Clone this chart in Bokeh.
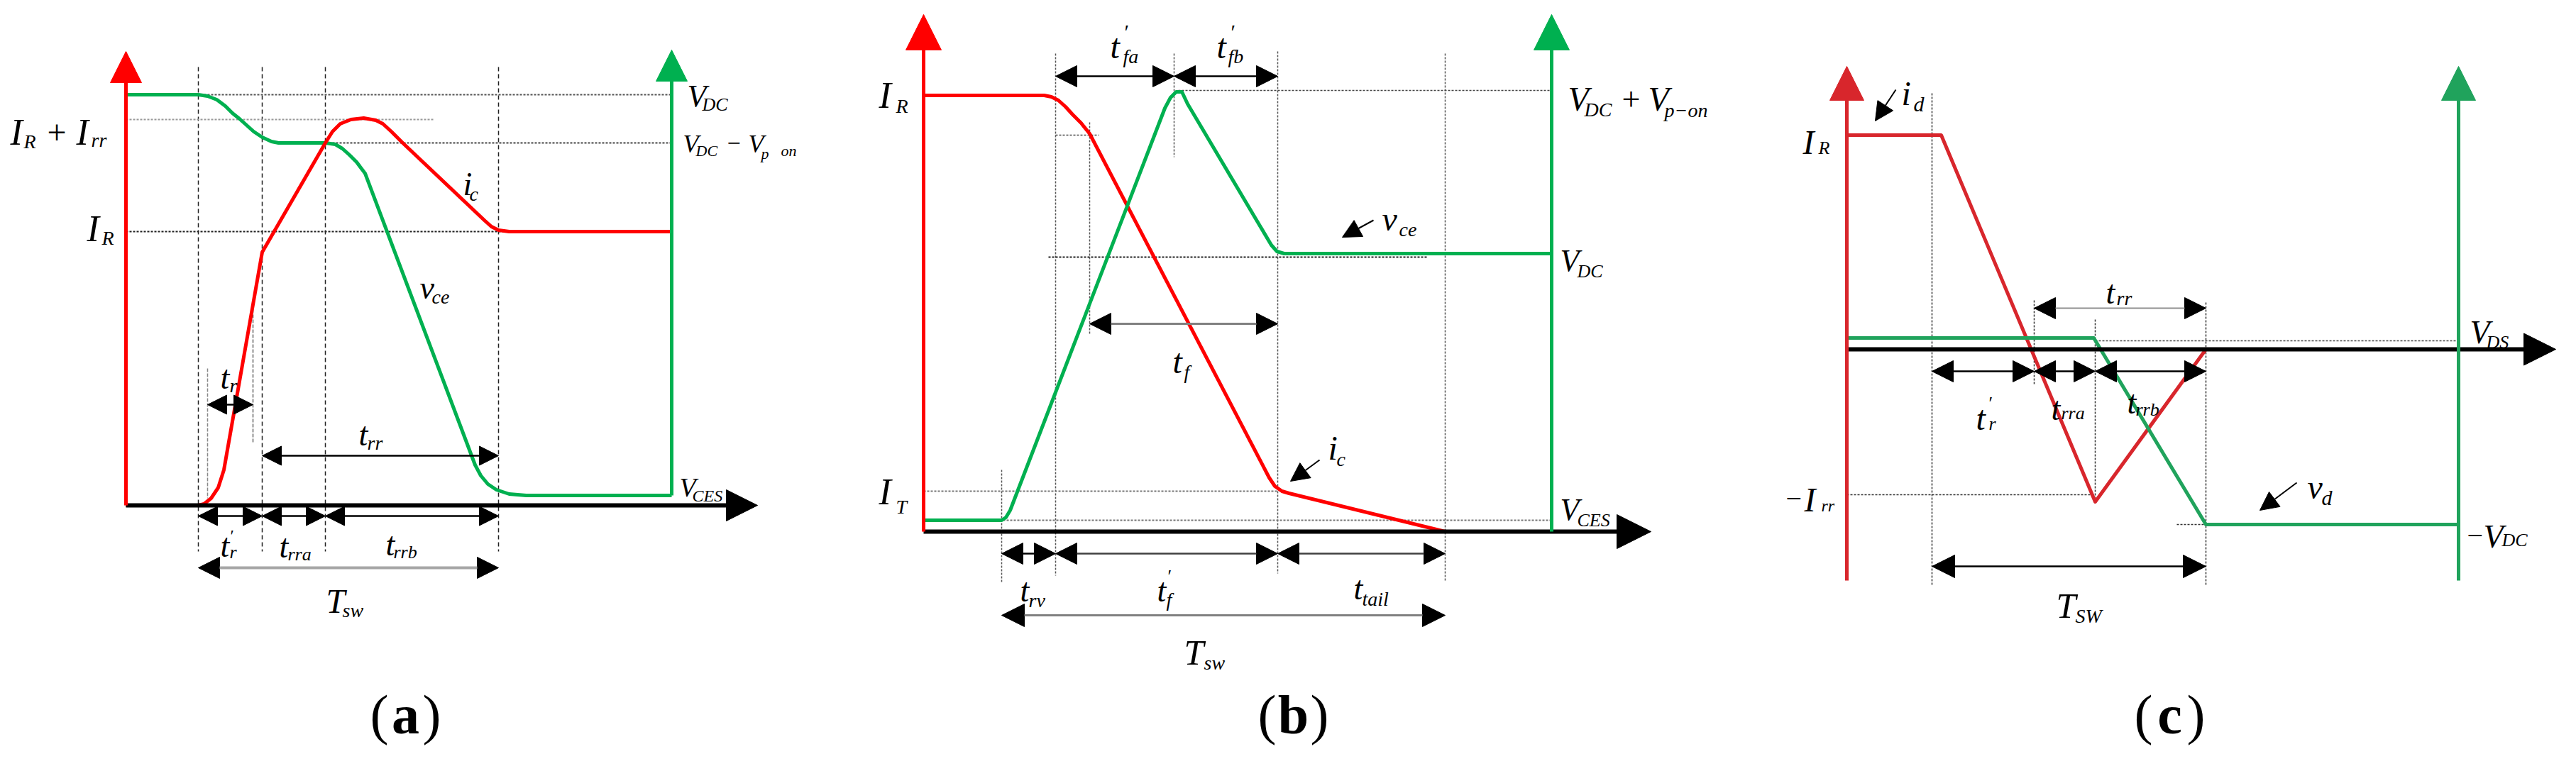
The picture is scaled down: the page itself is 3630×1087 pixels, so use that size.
from bokeh.plotting import figure
from bokeh.models import Range1d, Arrow, NormalHead, ColumnDataSource
from bokeh.embed import file_html
from bokeh.resources import INLINE
from bokeh.core.properties import value

# ---------------- data (time / level units, origin at axis crossing, level up) ----------------
# Panel (a): IGBT turn-on with diode reverse recovery
A_IC_T = [0, 102, 110, 120, 130, 138, 192, 281, 291, 302, 317, 335, 352, 362, 374, 390, 505, 515, 525, 540, 769]
A_IC_V = [0, 0, 2, 10, 25, 50, 357, 511, 527, 538, 544, 546, 543, 538, 527, 511, 402, 393, 388, 386, 386]
A_VCE_T = [0, 102, 115, 128, 140, 150, 160, 170, 180, 192, 205, 215, 281, 295, 305, 315, 325, 337, 492, 500, 510, 522, 540, 564, 769]
A_VCE_V = [579, 579, 577, 572, 563, 553, 545, 536, 527, 519, 513, 511, 511, 509, 503, 494, 484, 468, 57, 42, 30, 22, 16, 14, 14]
A_LEVELS = [386, 544, 579, 511, 14]          # I_R, I_R+I_rr, V_DC, V_DC-V_p-on, V_CES
A_PHASES = [102, 192, 281, 525]              # boundaries of t_r', t_rra, t_rrb
A_TR = [115, 179]                            # t_r marker
A_END = 769

# Panel (b): IGBT turn-off
B_IC_T = [0, 170, 180, 190, 200, 210, 222, 234, 487, 495, 505, 515, 735, 885]
B_IC_V = [615, 615, 613, 608, 599, 588, 576, 561, 76, 64, 57, 54, 0, 0]
B_VCE_T = [0, 110, 116, 122, 340, 348, 356, 364, 372, 490, 498, 508, 520, 885]
B_VCE_V = [16, 16, 20, 30, 597, 612, 620, 620, 603, 404, 395, 392, 392, 392]
B_LEVELS = [615, 57, 622, 387, 16]           # I_R, I_T, V_DC+V_p-on, V_DC, V_CES
B_PHASES = [110, 186, 234, 353, 499, 735]    # t_rv, t_fa', t_f, t_fb', t_tail boundaries
B_END = 885

# Panel (c): diode reverse recovery
C_ID_T = [0, 133, 350, 506, 862]
C_ID_V = [302, 302, -215, 0, 0]
C_VD_T = [0, 348, 506, 862]
C_VD_V = [16, 16, -247, -247]
C_LEVELS = [302, -205, 16, -247]             # I_R, -I_rr, on-state, -V_DC
C_PHASES = [120, 264, 350, 506]              # t_r', t_rra, t_rrb boundaries
C_END = 862

# ---------------- layout ----------------
OA = (185, 720)
OB = (1309, 757)
OC = (2610, 500)

RED = "#ff0000"
GREEN = "#00b050"
RED_C = "#d8262c"
GREEN_C = "#20a35c"

p = figure(width=3614, height=1071, x_range=Range1d(8, 3622), y_range=Range1d(1079, 8),
           output_backend="svg", toolbar_location=None, min_border=0,
           x_axis_location=None, y_axis_location=None)
p.outline_line_color = None
p.background_fill_color = "white"
p.border_fill_color = "white"
p.xgrid.grid_line_color = None
p.ygrid.grid_line_color = None


def px(o, t):
    return [o[0] + v for v in t]


def py(o, v):
    return [o[1] - w for w in v]


def seg(o, t0, v0, t1, v1, color="black", width=1.5, dash="solid"):
    p.segment(x0=[o[0] + t0], y0=[o[1] - v0], x1=[o[0] + t1], y1=[o[1] - v1],
              line_color=color, line_width=width, line_dash=dash)


def darrow(o, t0, t1, v, color="black", width=2.5, size=27):
    p.add_layout(Arrow(x_start=o[0] + t0, y_start=o[1] - v, x_end=o[0] + t1, y_end=o[1] - v,
                       line_color=color, line_width=width,
                       start=NormalHead(size=size, fill_color="black", line_color="black"),
                       end=NormalHead(size=size, fill_color="black", line_color="black")))


def axis_arrow(x0, y0, x1, y1, color, width=5, size=44):
    p.add_layout(Arrow(x_start=x0, y_start=y0, x_end=x1, y_end=y1, line_color=color, line_width=width,
                       end=NormalHead(size=size, fill_color=color, line_color=color)))


def pointer(x0, y0, x1, y1, size=26):
    p.add_layout(Arrow(x_start=x0, y_start=y0, x_end=x1, y_end=y1, line_color="black", line_width=2,
                       end=NormalHead(size=size, fill_color="black", line_color="black")))


DASH = "6 4"
DOT = "3 2"

# ---------- panel (a) guides ----------
for t in A_PHASES:
    seg(OA, t, 618, t, -65, "#222", 1.5, DASH)
seg(OA, A_TR[0], 193, A_TR[0], 10, "#888", 1.5, "5 2")
seg(OA, A_TR[1], 283, A_TR[1], 88, "#666", 1.5, "5 2")
seg(OA, 0, A_LEVELS[2], A_END, A_LEVELS[2], "#555", 2, DOT)
seg(OA, 0, A_LEVELS[1], 435, A_LEVELS[1], "#999", 2, DOT)
seg(OA, 211, A_LEVELS[3], A_END, A_LEVELS[3], "#444", 2, DOT)
seg(OA, 0, A_LEVELS[0], A_END, A_LEVELS[0], "#222", 2, DOT)

# ---------- panel (b) guides ----------
B_VSPAN = [(87, -73), (674, -62), (577, 278), (674, 528), (677, -59), (674, -69)]
for t, (va, vb) in zip(B_PHASES, B_VSPAN):
    seg(OB, t, va, t, vb, "#555", 1.5, DOT)
seg(OB, 359, B_LEVELS[2], B_END, B_LEVELS[2], "#444", 1.5, DOT)
seg(OB, 176, B_LEVELS[3], 710, B_LEVELS[3], "#222", 2, DOT)
seg(OB, 0, B_LEVELS[1], B_PHASES[4], B_LEVELS[1], "#777", 2, DOT)
seg(OB, 112, B_LEVELS[4], B_END, B_LEVELS[4], "#777", 2, DOT)
seg(OB, B_PHASES[1], 559, 247, 559, "#444", 1.5, DOT)

# ---------- panel (c) guides ----------
C_VSPAN = [(361, -333), (69, -49), (42, -215), (66, -333)]
for t, (va, vb) in zip(C_PHASES, C_VSPAN):
    seg(OC, t, va, t, vb, "#333", 1.5, DOT)
seg(OC, 0, C_LEVELS[1], C_PHASES[2], C_LEVELS[1], "#333", 1.5, DOT)
seg(OC, 465, C_LEVELS[3], C_PHASES[3], C_LEVELS[3], "#333", 1.5, DOT)
seg(OC, C_PHASES[2], 12, C_END, 12, "#444", 1.5, DOT)

# ---------- horizontal axes ----------
axis_arrow(OA[0], OA[1], OA[0] + 890, OA[1], "black", 6, 44)
axis_arrow(OB[0], OB[1], OB[0] + 1025, OB[1], "black", 6, 48)
axis_arrow(OC[0], OC[1], OC[0] + 999, OC[1], "black", 6, 45)

# ---------- waveforms ----------
p.line(px(OA, A_VCE_T), py(OA, A_VCE_V), line_color=GREEN, line_width=5, line_join="round")
p.line(px(OA, A_IC_T), py(OA, A_IC_V), line_color=RED, line_width=5, line_join="round")
p.line(px(OB, B_IC_T), py(OB, B_IC_V), line_color=RED, line_width=5, line_join="round")
p.line(px(OB, B_VCE_T), py(OB, B_VCE_V), line_color=GREEN, line_width=5, line_join="round")
p.line(px(OC, C_ID_T), py(OC, C_ID_V), line_color=RED_C, line_width=5, line_join="round")
p.line(px(OC, C_VD_T), py(OC, C_VD_V), line_color=GREEN_C, line_width=5, line_join="round")

# ---------- vertical axes ----------
axis_arrow(OA[0], OA[1], OA[0], 80, RED, 5, 44)
axis_arrow(OA[0] + A_END, OA[1] - A_LEVELS[4], OA[0] + A_END, 78, GREEN, 5, 44)
axis_arrow(OB[0], OB[1], OB[0], 28, RED, 5, 50)
axis_arrow(OB[0] + B_END, OB[1], OB[0] + B_END, 28, GREEN, 5, 50)
axis_arrow(OC[0], 826, OC[0], 101, RED_C, 5, 48)
axis_arrow(OC[0] + C_END, 826, OC[0] + C_END, 101, GREEN_C, 5, 48)

# ---------- dimension arrows ----------
darrow(OA, A_TR[0], A_TR[1], 142)
darrow(OA, A_PHASES[1], A_PHASES[3], 70)
darrow(OA, A_PHASES[0], A_PHASES[1], -15)
darrow(OA, A_PHASES[1], A_PHASES[2], -15)
darrow(OA, A_PHASES[2], A_PHASES[3], -15)
darrow(OA, A_PHASES[0], A_PHASES[3], -88, "#a6a6a6", 4, 30)

darrow(OB, B_PHASES[1], B_PHASES[3], 642, size=30)
darrow(OB, B_PHASES[3], B_PHASES[4], 642, size=30)
darrow(OB, B_PHASES[2], B_PHASES[4], 293, "#808080", 3, 30)
darrow(OB, B_PHASES[0], B_PHASES[1], -31, size=30)
darrow(OB, B_PHASES[1], B_PHASES[4], -31, "#404040", 2.5, 30)
darrow(OB, B_PHASES[4], B_PHASES[5], -31, "#404040", 2.5, 30)
darrow(OB, B_PHASES[0], B_PHASES[5], -118, "#808080", 3, 32)

darrow(OC, C_PHASES[1], C_PHASES[3], 58, "#909090", 2, 30)
darrow(OC, C_PHASES[0], C_PHASES[1], -31, size=30)
darrow(OC, C_PHASES[1], C_PHASES[2], -31, size=30)
darrow(OC, C_PHASES[2], C_PHASES[3], -31, size=30)
darrow(OC, C_PHASES[0], C_PHASES[3], -306, size=32)

pointer(1943, 318, 1899, 342)
pointer(1867, 656, 1826, 686)
pointer(2679, 134, 2650, 178)
pointer(3244, 688, 3192, 727)

# ---------- texts ----------
TX, TY, TS, TF, TST = [], [], [], [], []
PRIME = "\u2032"


def tx(x, y, s, size, style="italic"):
    TX.append(x); TY.append(y); TS.append(s); TF.append(f"{size}px"); TST.append(style)


# panel (a)
tx(22, 194, "I", 52); tx(41, 207, "R", 28); tx(74, 194, "+", 48, "normal"); tx(115, 194, "I", 52); tx(136, 205, "rr", 28)
tx(130, 330, "I", 52); tx(151, 343, "R", 28)
tx(660, 267, "i", 46); tx(669, 281, "c", 28)
tx(599, 413, "v", 46); tx(616, 426, "ce", 28)
tx(976, 143, "V", 44); tx(997, 155, "DC", 26)
tx(970, 210, "V", 36); tx(988, 220, "DC", 22); tx(1032, 209, "\u2212", 34, "normal"); tx(1062, 210, "V", 36)
tx(1080, 224, "p", 22); tx(1108, 220, "on", 22)
tx(965, 694, "V", 38); tx(983, 706, "CES", 24)
tx(318, 540, "t", 46); tx(331, 551, "r", 28)
tx(318, 777, "t", 46); tx(332, 762, PRIME, 24, "normal"); tx(331, 786, "r", 26)
tx(401, 778, "t", 46); tx(413, 789, "rra", 26)
tx(551, 775, "t", 46); tx(562, 786, "rrb", 26)
tx(513, 620, "t", 46); tx(525, 632, "rr", 28)
tx(467, 855, "T", 48); tx(490, 868, "sw", 28)

# panel (b)
tx(1246, 142, "I", 52); tx(1270, 157, "R", 28)
tx(1246, 701, "I", 52); tx(1270, 722, "T", 28)
tx(1572, 73, "t", 48); tx(1592, 52, PRIME, 30, "normal"); tx(1590, 87, "fa", 28)
tx(1722, 73, "t", 48); tx(1742, 52, PRIME, 30, "normal"); tx(1738, 87, "fb", 28)
tx(1660, 517, "t", 48); tx(1676, 532, "f", 28)
tx(1955, 316, "v", 48); tx(1979, 331, "ce", 28)
tx(1879, 639, "i", 48); tx(1891, 655, "c", 28)
tx(2217, 147, "V", 48); tx(2240, 162, "DC", 28); tx(2293, 147, "+", 46, "normal"); tx(2330, 147, "V", 48)
tx(2353, 163, "p\u2212on", 28)
tx(2206, 375, "V", 44); tx(2230, 390, "DC", 26)
tx(2206, 726, "V", 44); tx(2230, 741, "CES", 26)
tx(1445, 840, "t", 46); tx(1457, 854, "rv", 28)
tx(1638, 840, "t", 46); tx(1653, 820, PRIME, 26, "normal"); tx(1651, 853, "f", 28)
tx(1915, 837, "t", 46); tx(1927, 852, "tail", 28)
tx(1676, 927, "T", 50); tx(1704, 942, "sw", 28)

# panel (c)
tx(2687, 139, "i", 48); tx(2704, 154, "d", 30)
tx(2548, 208, "I", 48); tx(2570, 216, "R", 26)
tx(2524, 710, "\u2212", 40, "normal"); tx(2550, 712, "I", 48); tx(2574, 720, "rr", 24)
tx(2975, 420, "t", 46); tx(2990, 428, "rr", 28)
tx(3488, 476, "V", 46); tx(3511, 490, "DS", 26)
tx(2792, 597, "t", 48); tx(2810, 576, PRIME, 26, "normal"); tx(2810, 605, "r", 26)
tx(2898, 584, "t", 46); tx(2912, 590, "rra", 26)
tx(3005, 575, "t", 46); tx(3017, 585, "rrb", 26)
tx(3259, 694, "v", 48); tx(3279, 709, "d", 30)
tx(3484, 762, "\u2212", 40, "normal"); tx(3507, 764, "V", 46); tx(3533, 769, "DC", 26)
tx(2905, 861, "T", 50); tx(2932, 876, "SW", 28)

src = ColumnDataSource(dict(x=TX, y=TY, text=TS, size=TF, style=TST))
p.text(x="x", y="y", text="text", source=src, text_font=value("Liberation Serif"),
       text_font_size="size", text_font_style="style", text_color="black",
       text_baseline="alphabetic", text_align="left")

# panel captions
CAP = ["a", "b", "c"]
CAP_X = [579, 1830, 3065]
CAP_Y = 1015
for cx, c in zip(CAP_X, CAP):
    p.text(x=[cx - 24], y=[CAP_Y], text=["("], text_font=value("Liberation Serif"), text_font_size="78px",
           text_align="right", text_baseline="middle")
    p.text(x=[cx], y=[CAP_Y], text=[c], text_font=value("Liberation Serif"), text_font_size="78px",
           text_font_style="bold", text_align="center", text_baseline="middle")
    p.text(x=[cx + 24], y=[CAP_Y], text=[")"], text_font=value("Liberation Serif"), text_font_size="78px",
           text_align="left", text_baseline="middle")

open("out.html", "w").write(file_html(p, INLINE))
